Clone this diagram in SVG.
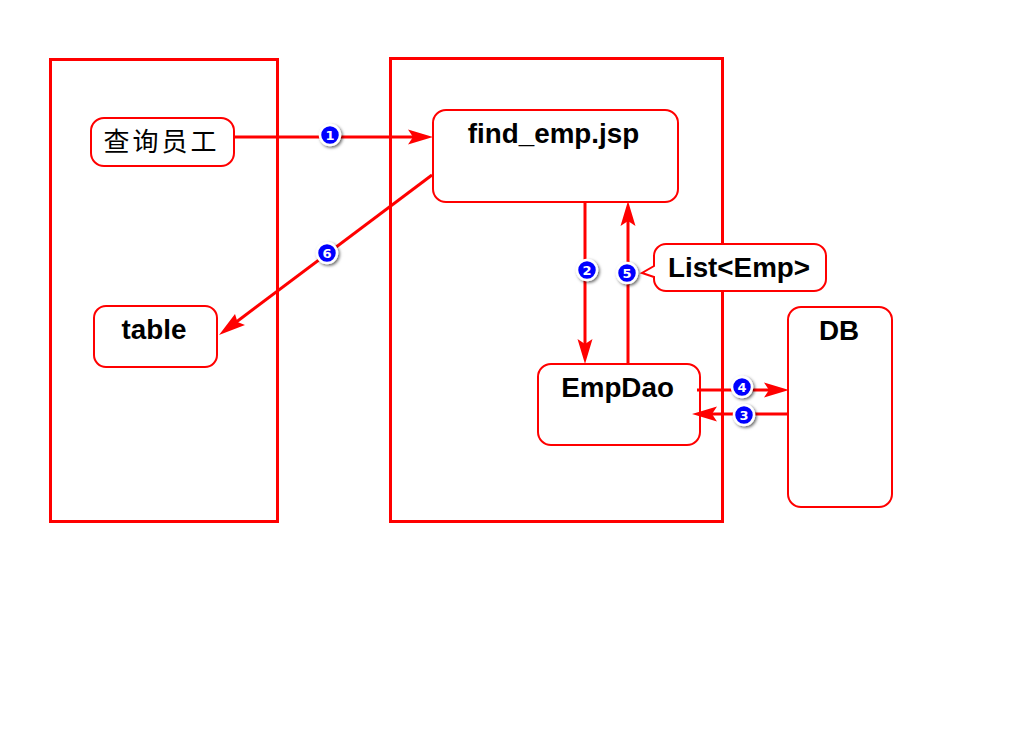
<svg xmlns="http://www.w3.org/2000/svg" width="1024" height="738" viewBox="0 0 1024 738">
<style>
.frame{fill:none;stroke:#f00;stroke-width:3}
.box{fill:#fff;stroke:#f00;stroke-width:2}
.t{font-family:"Liberation Sans",Arial,sans-serif;font-weight:700;font-size:27.800px;fill:#000;text-anchor:middle}
.cn{font-family:"Noto Sans CJK SC","Liberation Serif",serif;font-size:26px;fill:#000;text-anchor:middle;letter-spacing:3px}
.c{fill:none;stroke:#f00;stroke-width:3}
.hd{fill:#f00}
.b{fill:#00f;stroke:#fff;stroke-width:2.500}
.n{font-family:"DejaVu Sans",sans-serif;font-weight:700;font-size:13px;fill:#fff;text-anchor:middle}
</style>
<defs>
<filter id="sh" x="-40%" y="-40%" width="200%" height="200%"><feDropShadow dx="1.500" dy="1.500" stdDeviation="1.500" flood-color="#000" flood-opacity=".6"/></filter>
</defs>
<g id="frame-left"><rect class="frame" x="50.500" y="59.500" width="227" height="462"/></g>
<g id="frame-right"><rect class="frame" x="390.500" y="58.500" width="332" height="463"/></g>
<g id="node-query"><rect class="box" x="91" y="118" width="143" height="48" rx="13"/><text class="cn" x="161.500" y="151">查询员工</text></g>
<g id="node-table"><rect class="box" x="94" y="306" width="123" height="61" rx="12"/><text class="t" x="154" y="339">table</text></g>
<g id="node-jsp"><rect class="box" x="433" y="110" width="245" height="92" rx="13"/><text class="t" x="553.500" y="143">find_emp.jsp</text></g>
<g id="node-dao"><rect class="box" x="538" y="364" width="162" height="81" rx="13"/><text class="t" x="617.500" y="397">EmpDao</text></g>
<g id="node-db"><rect class="box" x="788" y="307" width="104" height="200" rx="13"/><text class="t" x="839" y="340">DB</text></g>
<g id="node-list"><path class="box" d="M666 244H814a12 12 0 0 1 12 12V279a12 12 0 0 1-12 12H666a12 12 0 0 1-12-12V277L642 273L654 266V256a12 12 0 0 1 12-12Z"/><text class="t" x="739" y="277">List&lt;Emp&gt;</text></g>
<g id="connectors">
<path class="c" d="M235 137H420"/><path class="hd" d="M433 137L408 129.500L413 137L408 144.500Z"/>
<path class="c" d="M585 202V352"/><path class="hd" d="M585 364L577.500 339L585 344L592.500 339Z"/>
<path class="c" d="M628 363V214"/><path class="hd" d="M628 201L620.500 226L628 221L635.500 226Z"/>
<path class="c" d="M697 390H776"/><path class="hd" d="M789 390L764 382.500L769 390L764 397.500Z"/>
<path class="c" d="M787 414H706"/><path class="hd" d="M692 414L717 406.500L712 414L717 421.500Z"/>
<path class="c" d="M432 175L231 326"/><path class="hd" d="M219 335L235 314L237.500 322L245 325Z"/>
</g>
<g id="badges">
<g filter="url(#sh)"><circle class="b" cx="330" cy="135" r="10"/></g><text class="n" x="330" y="139.500">1</text>
<g filter="url(#sh)"><circle class="b" cx="587" cy="270" r="10"/></g><text class="n" x="587" y="274.500">2</text>
<g filter="url(#sh)"><circle class="b" cx="744" cy="415" r="10"/></g><text class="n" x="744" y="419.500">3</text>
<g filter="url(#sh)"><circle class="b" cx="742" cy="387" r="10"/></g><text class="n" x="742" y="391.500">4</text>
<g filter="url(#sh)"><circle class="b" cx="627" cy="273" r="10"/></g><text class="n" x="627" y="277.500">5</text>
<g filter="url(#sh)"><circle class="b" cx="327" cy="253" r="10"/></g><text class="n" x="327" y="257.500">6</text>
</g>
</svg>
